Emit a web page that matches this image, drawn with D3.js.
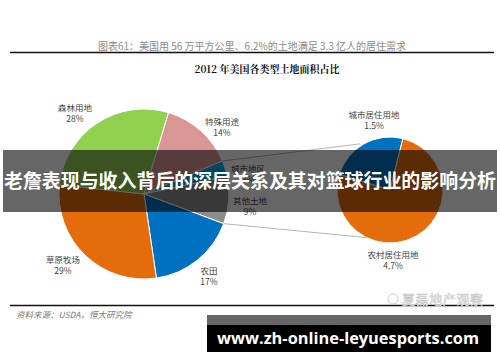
<!DOCTYPE html>
<html><head><meta charset="utf-8">
<script src="https://cdn.jsdelivr.net/npm/d3@7/dist/d3.min.js"></script>
<style>html,body{margin:0;padding:0;background:#fff;}svg{display:block;}</style>
</head><body><svg id="c" width="500" height="362"></svg>
<script>
// ---- data ----
const mainCategories = ["森林用地","特殊用途","城市地区","其他土地","农田","草原牧场"];
const mainValues = [28,14,3,9,17,29];
const mainColors = ["#92D050","#DA9694","#00B0F0","#8C8C8C","#0070C0","#E46C0A"];
const subCategories = ["城市居住用地","农村居住用地"];
const subValues = [1.5,4.7];
const subColors = ["#0070C0","#E46C0A"];
const figTitle = "图表61：美国用 56 万平方公里、6.2%的土地满足 3.3 亿人的居住需求";
const chartTitle = "2012 年美国各类型土地面积占比";
const sourceText = "资料来源：USDA，恒大研究院";
const bannerText = "老詹表现与收入背后的深层关系及其对篮球行业的影响分析";
const urlText = "www.zh-online-leyuesports.com";
const watermark = "夏磊地产观察";

// ---- layout ----
const rad = d => d*Math.PI/180;
const svg = d3.select("#c");
const font = "'Noto Sans CJK SC','Noto Sans',sans-serif";
const mainC = [144,194], mainR = 85;
const subC = [390,190], subR = 53;
const mainLabelPos = [[75,111],[222,125],[248,172],[250,204],[209,274],[63,263]];
const subLabelPos = [[374,118],[393,258]];

// figure title & rules
svg.append("text").attr("x",252).attr("y",50).attr("text-anchor","middle")
  .attr("font-family",font).attr("font-size",10).attr("fill","#8a8a8a").text(figTitle);
svg.append("line").attr("x1",10).attr("x2",494).attr("y1",52.5).attr("y2",52.5).attr("stroke","#111").attr("stroke-width",1.6);
svg.append("text").attr("x",267).attr("y",73).attr("text-anchor","middle")
  .attr("font-family","'Noto Serif CJK SC','DejaVu Serif',"+font).attr("font-weight","bold")
  .attr("font-size",10).attr("fill","#111").text(chartTitle);

// pies
const pieMain = d3.pie().sort(null).startAngle(rad(-84)).endAngle(rad(276));
const arcsMain = pieMain(mainValues);
const arcM = d3.arc().innerRadius(0).outerRadius(mainR);
const gMain = svg.append("g").attr("transform",`translate(${mainC[0]},${mainC[1]})`);
gMain.selectAll("path").data(arcsMain).join("path").attr("d",arcM)
  .attr("fill",(d,i)=>mainColors[i]).attr("stroke","#fff").attr("stroke-width",1);

const pieSub = d3.pie().sort(null).startAngle(rad(-73)).endAngle(rad(287));
const arcsSub = pieSub(subValues);
const arcS = d3.arc().innerRadius(0).outerRadius(subR);
const gSub = svg.append("g").attr("transform",`translate(${subC[0]},${subC[1]})`);
gSub.selectAll("path").data(arcsSub).join("path").attr("d",arcS)
  .attr("fill",(d,i)=>subColors[i]).attr("stroke","#fff").attr("stroke-width",1);

// connector lines
const pt = (c,r,a) => [c[0]+r*Math.sin(a), c[1]-r*Math.cos(a)];
const p1 = pt(mainC,mainR,arcsMain[1].endAngle), p2 = pt(mainC,mainR,arcsMain[3].endAngle);
const q1 = pt(subC,subR+2,rad(-33)), q2 = pt(subC,subR,rad(206));
[[p1,q1],[p2,q2]].forEach(([a,b])=>svg.append("line").attr("x1",a[0]).attr("y1",a[1])
  .attr("x2",b[0]).attr("y2",b[1]).attr("stroke","#b5b5b5").attr("stroke-width",1));

// labels
function label(x,y,name,val){
  const t = svg.append("text").attr("text-anchor","middle").attr("font-family",font)
    .attr("font-size",8.5).attr("fill","#444");
  t.append("tspan").attr("x",x).attr("y",y).text(name);
  t.append("tspan").attr("x",x).attr("y",y+11).text(val+"%");
}
mainCategories.forEach((c,i)=>label(mainLabelPos[i][0],mainLabelPos[i][1],c,mainValues[i]));
subCategories.forEach((c,i)=>label(subLabelPos[i][0],subLabelPos[i][1],c,subValues[i]));

// bottom rule & source
svg.append("line").attr("x1",10).attr("x2",494).attr("y1",305.5).attr("y2",305.5).attr("stroke","#111").attr("stroke-width",1.6);
svg.append("text").attr("x",16).attr("y",318).attr("font-family",font).attr("font-style","italic")
  .attr("font-size",8.5).attr("fill","#777").text(sourceText);
// watermark
svg.append("circle").attr("cx",393).attr("cy",299).attr("r",5).attr("fill","none").attr("stroke","#ccc");
svg.append("text").attr("x",402).attr("y",304).attr("font-family",font).attr("font-size",13)
  .attr("fill","#fff").attr("stroke","#c8c8c8").attr("stroke-width",0.6).attr("textLength",81).text(watermark);

// overlay banner
svg.append("rect").attr("x",3).attr("y",150).attr("width",494).attr("height",62).attr("fill","rgba(0,0,0,0.6)");
svg.append("text").attr("x",250).attr("y",188).attr("text-anchor","middle").attr("font-family",font)
  .attr("font-weight","bold").attr("font-size",19).attr("fill","#fff")
  .attr("textLength",492).attr("lengthAdjust","spacingAndGlyphs").text(bannerText);

// url box
svg.append("rect").attr("x",207).attr("y",315).attr("width",284).attr("height",10).attr("fill","#666");
svg.append("rect").attr("x",207).attr("y",325).attr("width",284).attr("height",27).attr("fill","#000");
svg.append("text").attr("x",348).attr("y",344).attr("text-anchor","middle").attr("font-family","'Open Sans','DejaVu Sans',sans-serif")
  .attr("font-weight","bold").attr("font-size",16).attr("fill","#fff")
  .attr("textLength",262).attr("lengthAdjust","spacingAndGlyphs").text(urlText);
</script></body></html>
